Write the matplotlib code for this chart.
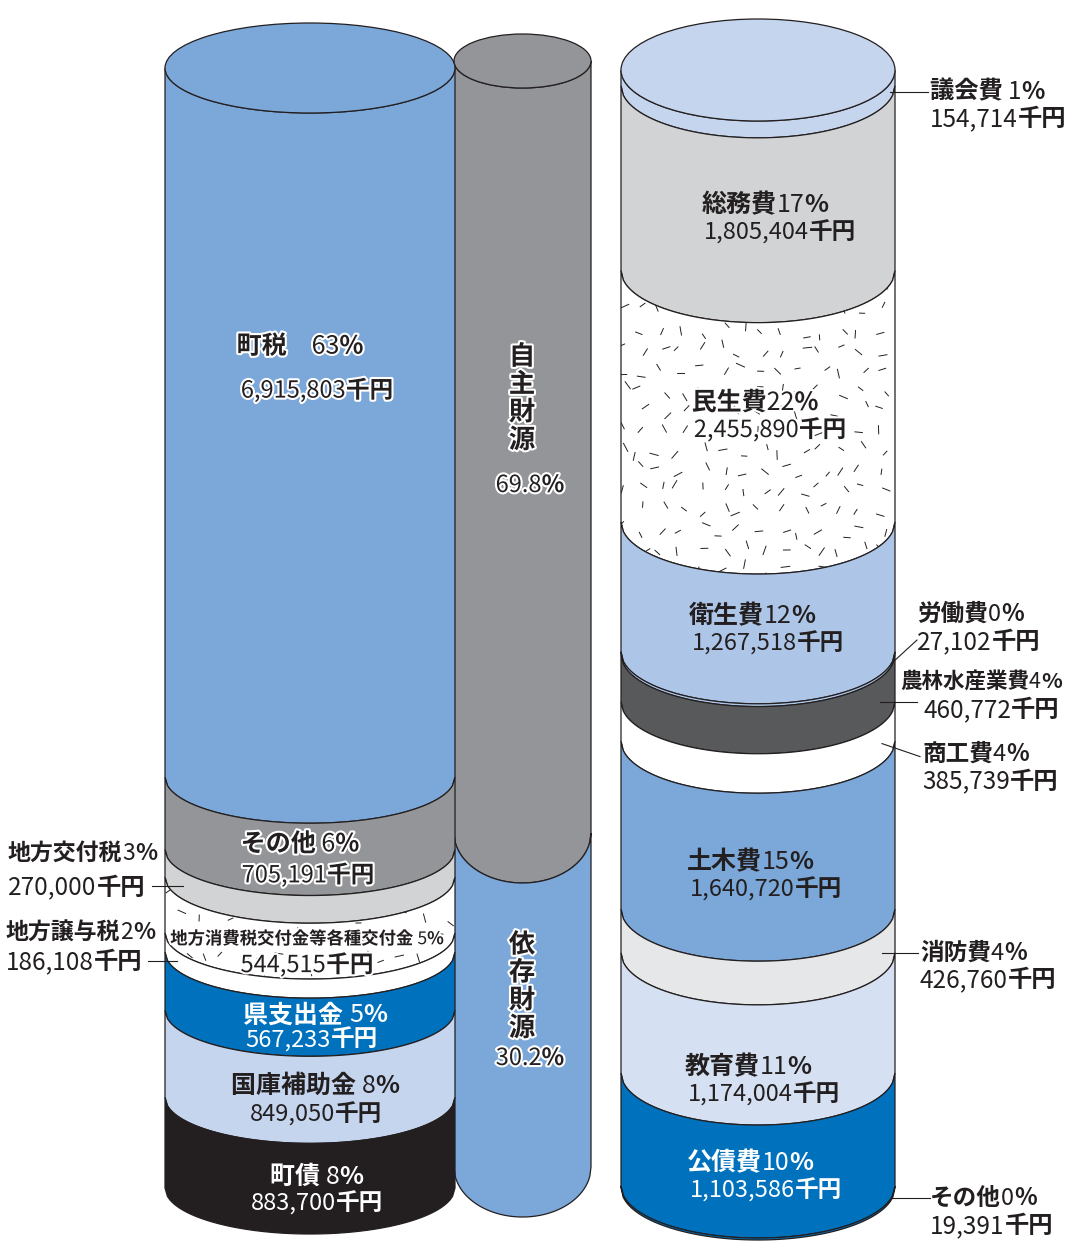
import re

import matplotlib
matplotlib.use('Agg')
import matplotlib.pyplot as plt
import matplotlib.patheffects as pe
import numpy as np
from matplotlib.collections import LineCollection
from matplotlib.offsetbox import AnnotationBbox, HPacker, TextArea
from matplotlib.patches import Ellipse, Polygon

# ---- data (千円) ----
rev_names = ['町税', 'その他', '地方交付税', '地方消費税交付金等各種交付金', '地方譲与税',
             '県支出金', '国庫補助金', '町債']
rev_values = [6915803, 705191, 270000, 544515, 186108, 567233, 849050, 883700]
rev_pct = [63, 6, 3, 5, 2, 5, 8, 8]

exp_names = ['議会費', '総務費', '民生費', '衛生費', '労働費', '農林水産業費', '商工費',
             '土木費', '消防費', '教育費', '公債費', 'その他']
exp_values = [154714, 1805404, 2455890, 1267518, 27102, 460772, 385739,
              1640720, 426760, 1174004, 1103586, 19391]
exp_pct = [1, 17, 22, 12, 0, 4, 4, 15, 4, 11, 10, 0]

src_names = ['自主財源', '依存財源']
src_pct = [69.8, 30.2]

# ---- style ----
EDGE = '#231f20'
rev_colors = ['#7ba7d9', '#939598', '#d1d3d4', '#ffffff', '#ffffff', '#0071bc', '#c5d5ee', '#231f20']
exp_colors = ['#c5d5ee', '#d1d3d4', '#ffffff', '#adc6e8', '#adc6e8', '#58595b', '#ffffff',
              '#7ba7d9', '#e6e7e8', '#d5e0f2', '#0071bc', '#0071bc']
src_colors = ['#939598', '#7ba7d9']
rev_sep = ['\u3000', ' ', '', ' ', '', ' ', ' ', ' ']
exp_sep = [' ', '', '', '', '', '', '', '', '', '', '', '']

JP = ['Noto Sans CJK JP', 'DejaVu Sans']

W, H = 1066, 1245
fig = plt.figure(figsize=(W / 100, H / 100), dpi=100)
ax = fig.add_axes([0, 0, 1, 1])
ax.set_xlim(0, W)
ax.set_ylim(H, 0)
ax.axis('off')
rng = np.random.default_rng(11)  # only for the speckle texture


def arc(cx, a, y, b, reverse=False):
    xs = np.linspace(cx - a, cx + a, 120)
    ys = y + b * np.sqrt(np.clip(1 - ((xs - cx) / a) ** 2, 0, None))
    pts = np.column_stack([xs, ys])
    return pts[::-1] if reverse else pts


def texture(poly, x0, x1, y0, y1, step=20):
    gx, gy = np.meshgrid(np.arange(x0, x1, step), np.arange(y0, y1, step))
    gx = gx.ravel() + rng.uniform(-7, 7, gx.size)
    gy = gy.ravel() + rng.uniform(-7, 7, gy.size)
    ang = rng.uniform(0, np.pi, gx.size)
    ln = rng.uniform(6, 10, gx.size)
    segs = [[(x - l / 2 * np.cos(t), y - l / 2 * np.sin(t)),
             (x + l / 2 * np.cos(t), y + l / 2 * np.sin(t))]
            for x, y, t, l in zip(gx, gy, ang, ln)]
    lc = LineCollection(segs, colors=EDGE, linewidths=0.7, zorder=2.5)
    lc.set_clip_path(poly)
    ax.add_collection(lc)


def cylinder(cx, a, top, bottom, b, btop, values, colors, textured=()):
    fr = np.array(values, dtype=float) / np.sum(values)
    ys = top + np.concatenate([[0], np.cumsum(fr)]) * (bottom - top)
    for i, col in enumerate(colors):
        bt = btop if i == 0 else b
        pts = np.vstack([arc(cx, a, ys[i], bt), arc(cx, a, ys[i + 1], b, reverse=True)])
        poly = Polygon(pts, closed=True, fc=col, ec=EDGE, lw=0.9, zorder=2)
        ax.add_patch(poly)
        if i in textured:
            texture(poly, cx - a, cx + a, ys[i], ys[i + 1] + b)
    ax.add_patch(Ellipse((cx, top), 2 * a, 2 * btop, fc=colors[0], ec=EDGE, lw=0.9, zorder=3))
    return ys


def seg_y(ys, i, cx, a, b, x):
    return (ys[i] + ys[i + 1]) / 2 + b * np.sqrt(max(0.0, 1 - ((x - cx) / a) ** 2))


def rich(x, y, s, size, color=EDGE, ha=0.5, halo=None):
    parts = re.findall(r'[0-9.,]+|[^0-9.,]+', s)
    boxes = []
    for p in parts:
        w = 'normal' if re.fullmatch(r'[0-9.,]+', p) else 'bold'
        props = dict(fontsize=size, color=color, fontweight=w, family=JP)
        if halo:
            props['path_effects'] = [pe.withStroke(linewidth=3, foreground=halo)]
        boxes.append(TextArea(p, textprops=props))
    box = HPacker(children=boxes, align='baseline', pad=0, sep=0)
    ab = AnnotationBbox(box, (x, y), xycoords='data', box_alignment=(ha, 0.5),
                        frameon=False, pad=0, annotation_clip=False)
    ab.set_zorder(10)
    ax.add_artist(ab)


# ---- cylinders ----
L = dict(cx=310, a=145, b=46)
M = dict(cx=522.5, a=68.5, b=50)
R = dict(cx=758, a=137, b=52)

ys_m = cylinder(M['cx'], M['a'], 61, 1167, M['b'], 27, src_pct, src_colors)
ys_l = cylinder(L['cx'], L['a'], 68, 1188, L['b'], 45, rev_values, rev_colors, textured=(3,))
ys_r = cylinder(R['cx'], R['a'], 70, 1188, R['b'], 51, exp_values, exp_colors, textured=(2,))

rev_lbl = [f'{n}{s}{p}%' for n, s, p in zip(rev_names, rev_sep, rev_pct)]
exp_lbl = [f'{n}{s}{p}%' for n, s, p in zip(exp_names, exp_sep, exp_pct)]
rev_val = [f'{v:,}千円' for v in rev_values]
exp_val = [f'{v:,}千円' for v in exp_values]

# labels inside the revenue cylinder, offsets from the segment's middle at the centre line
# index -> (x1, dy1, x2, dy2, size1, color, halo)
rev_in = {0: (300, -122, 317, -78, 18, EDGE, 'white'),
          1: (300, -15, 308, 16, 18, EDGE, 'white'),
          3: (307, -12, 307, 14, 12.5, EDGE, 'white'),
          5: (315, -12, 312, 12, 18, 'white', None),
          6: (315, -14, 316, 14, 18, EDGE, None),
          7: (317, -12, 317, 14, 18, 'white', None)}
for i, (x1, dy1, x2, dy2, s1, c, h) in rev_in.items():
    ym = seg_y(ys_l, i, L['cx'], L['a'], L['b'], L['cx'])
    rich(x1, ym + dy1, rev_lbl[i], s1, c, halo=h)
    rich(x2, ym + dy2, rev_val[i], 17, c, halo=h)

exp_in = {1: (765, 205, 780, 232, EDGE, None),
          2: (755, 403, 770, 430, EDGE, 'white'),
          3: (752, 616, 768, 643, EDGE, None),
          7: (750, 862, 766, 889, EDGE, None),
          9: (748, 1067, 764, 1094, EDGE, None),
          10: (750, 1163, 766, 1190, 'white', None)}
for i, (x1, y1, x2, y2, c, h) in exp_in.items():
    rich(x1, y1, exp_lbl[i], 18, c, halo=h)
    rich(x2, y2, exp_val[i], 17, c, halo=h)

# outside labels: index -> (inner x, outer x, outer dy, text x1, text x2, dy1, dy2, size1)
rev_out = {2: (183, 152, 0, 8, 8, -32, 2, 16.5),
           4: (177, 148, 0, 6, 6, -28, 1, 16.5)}
exp_out = {0: (890, 928, 0, 930, 930, 0, 27, 17.5),
           4: (893, 917, -22, 917, 917, -48, -20, 17),
           5: (880, 917, 0, 900, 923, -20, 8, 15.5),
           6: (882, 920, 13, 922, 922, 10, 38, 17),
           8: (882, 918, 0, 920, 920, 0, 27, 17),
           11: (892, 930, 0, 930, 930, 0, 28, 17)}
for group, ys, G, lbl, val in ((rev_out, ys_l, L, rev_lbl, rev_val),
                               (exp_out, ys_r, R, exp_lbl, exp_val)):
    for i, (xi, xo, dyo, tx1, tx2, dy1, dy2, s1) in group.items():
        yi = seg_y(ys, i, G['cx'], G['a'], G['b'], xi)
        ax.plot([xo, xi], [yi + dyo, yi], color=EDGE, lw=0.8, zorder=9)
        rich(tx1, yi + dy1, lbl[i], s1, ha=0)
        rich(tx2, yi + dy2, val[i], 17.5, ha=0)

# middle cylinder captions
stroke = [pe.withStroke(linewidth=3, foreground='white')]
for name, y0 in zip(src_names, (357, 945)):
    for k, ch in enumerate(name):
        ax.text(522, y0 + k * 27.8, ch, fontsize=19, fontweight='bold', family=JP,
                color=EDGE, ha='center', va='center', path_effects=stroke, zorder=10)
for p, py in zip(src_pct, (485, 1058)):
    rich(530, py, f'{p}%', 17, halo='white')

fig.savefig('out.png', dpi=100)
